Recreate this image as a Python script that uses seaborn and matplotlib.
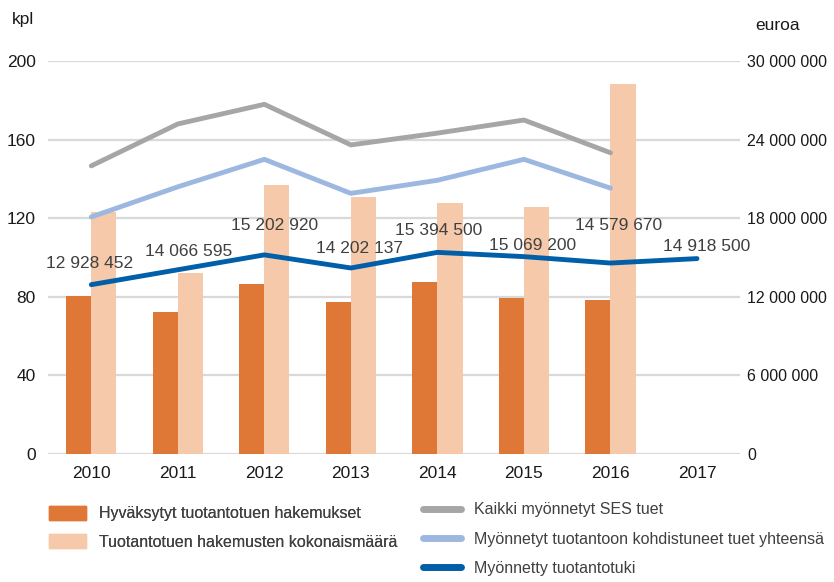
import matplotlib
matplotlib.use("Agg")
import matplotlib.pyplot as plt
import seaborn as sns
import pandas as pd
from matplotlib.patches import Patch
from matplotlib.lines import Line2D
from matplotlib.ticker import FuncFormatter

years = ["2010", "2011", "2012", "2013", "2014", "2015", "2016", "2017"]
bar_years = ["2010", "2011", "2012", "2013", "2014", "2015", "2016"]
hyvaksytyt = [80.5, 72.5, 86.5, 77.5, 87.5, 79.5, 78.5]
kokonaismaara = [123, 92, 137, 131, 128, 125.5, 188.5]
kaikki_ses = [22.0e6, 25.2e6, 26.7e6, 23.6e6, 24.5e6, 25.5e6, 23.0e6]
tuotantoon = [18.1e6, 20.4e6, 22.5e6, 19.9e6, 20.9e6, 22.5e6, 20.3e6]
tuotantotuki = [12928452, 14066595, 15202920, 14202137, 15394500, 15069200, 14579670, 14918500]

names_bars = ["Hyväksytyt tuotantotuen hakemukset", "Tuotantotuen hakemusten kokonaismäärä"]
names_lines = ["Kaikki myönnetyt SES tuet", "Myönnetyt tuotantoon kohdistuneet tuet yhteensä",
               "Myönnetty tuotantotuki"]

c_dark = "#DF7737"
c_light = "#F5C9AA"
c_gray = "#A6A6A6"
c_lblue = "#9DB8E0"
c_dblue = "#005FA8"
c_text = "#1a1a1a"
c_label = "#404040"

sns.set_theme(style="white")
plt.rcParams['font.family'] = ['Liberation Sans', 'DejaVu Sans']

fig = plt.figure(figsize=(8.34, 5.82), dpi=100)
ax = fig.add_axes([0.0576, 0.22, 0.83, 0.675])

df = pd.DataFrame({
    "year": bar_years * 2,
    "value": hyvaksytyt + kokonaismaara,
    "series": [names_bars[0]] * 7 + [names_bars[1]] * 7,
})
sns.barplot(data=df, x="year", y="value", hue="series", order=years,
            hue_order=names_bars, palette=[c_dark, c_light], width=0.58,
            saturation=1, ax=ax, legend=False, linewidth=0)

ax.set_xlim(-0.5, 7.5)
ax.set_ylim(0, 200)
ax.set_yticks([0, 40, 80, 120, 160, 200])
ax.grid(axis="y", color="#D9D9D9", linewidth=1.6)
ax.set_axisbelow(True)
for s in ax.spines.values():
    s.set_visible(False)
ax.set_xlabel("")
ax.set_ylabel("")
ax.tick_params(axis="both", length=0, labelsize=12.5, colors=c_text)
ax.tick_params(axis="y", pad=9)
ax.tick_params(axis="x", pad=9)

ax2 = ax.twinx()
xs7 = list(range(7))
xs8 = list(range(8))
sns.lineplot(x=xs7, y=kaikki_ses, color=c_gray, lw=3.5, ax=ax2, solid_capstyle="round")
sns.lineplot(x=xs7, y=tuotantoon, color=c_lblue, lw=3.5, ax=ax2, solid_capstyle="round")
sns.lineplot(x=xs8, y=tuotantotuki, color=c_dblue, lw=3.5, ax=ax2, solid_capstyle="round")
ax2.set_xlim(-0.5, 7.5)
ax2.set_ylim(0, 30e6)
ax2.set_yticks([0, 6e6, 12e6, 18e6, 24e6, 30e6])
ax2.yaxis.set_major_formatter(FuncFormatter(lambda v, p: f"{int(v):,}".replace(",", " ")))
ax2.grid(False)
for s in ax2.spines.values():
    s.set_visible(False)
ax2.tick_params(axis="y", length=0, labelsize=11.5, colors=c_text, pad=5)

label_offsets = [(-1, 15), (8, 13), (7, 21), (6, 14), (1, 16), (6, 8), (6, 27), (7, 9)]
for i, v in enumerate(tuotantotuki):
    ax2.annotate(f"{v:,}".replace(",", " "), (i, v), xytext=label_offsets[i],
                 textcoords="offset points", ha="center", va="center",
                 fontsize=12.5, color=c_label)

fig.text(0.0144, 0.966, "kpl", fontsize=12.5, ha="left", va="center", color=c_text)
fig.text(0.906, 0.957, "euroa", fontsize=12.5, ha="left", va="center", color=c_text)

h_bars = [Patch(color=c_dark), Patch(color=c_light)]
h_lines = [Line2D([], [], color=c, lw=5, solid_capstyle="round") for c in (c_gray, c_lblue, c_dblue)]
leg1 = fig.legend(h_bars, names_bars, loc="upper left", bbox_to_anchor=(0.0588, 0.131),
                  frameon=False, fontsize=11.5, handlelength=2.3, handleheight=1.0,
                  labelspacing=0.8, borderaxespad=0, borderpad=0, handletextpad=0.85,
                  labelcolor=c_label)
leg2 = fig.legend(h_lines, names_lines, loc="upper left", bbox_to_anchor=(0.507, 0.137),
                  frameon=False, fontsize=11.5, handlelength=2.4,
                  labelspacing=0.9, borderaxespad=0, borderpad=0, handletextpad=0.8,
                  labelcolor=c_label)
fig.add_artist(leg1)

fig.savefig("out.png", dpi=100)
